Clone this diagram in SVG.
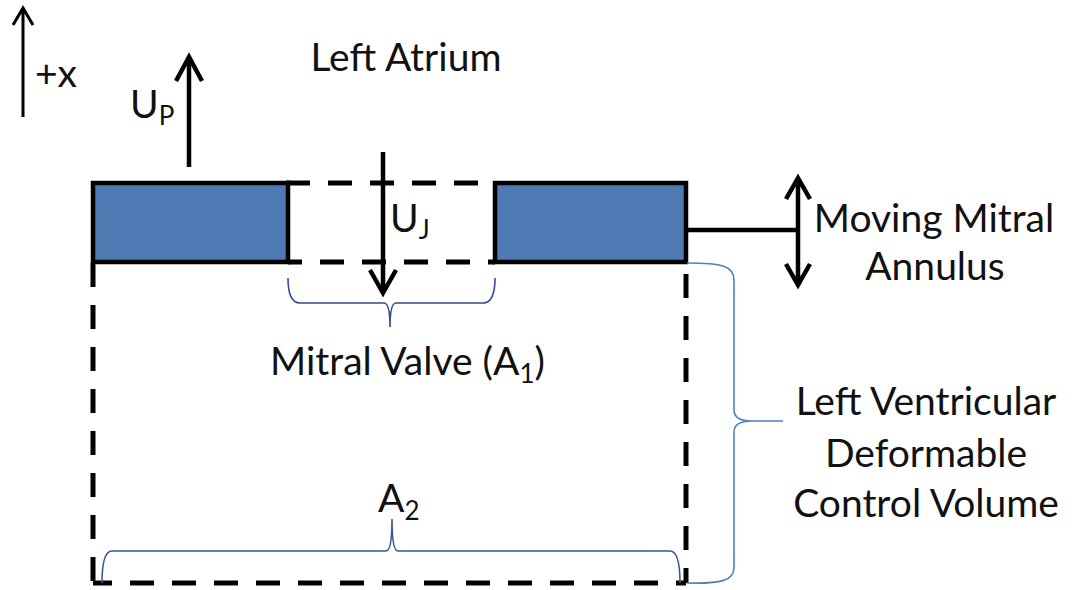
<svg xmlns="http://www.w3.org/2000/svg" width="1080" height="590" viewBox="0 0 1080 590">
<style>
text{font-family:Lato,"Open Sans","Liberation Sans",sans-serif;fill:#111;font-size:39px}
.sub{font-size:26px}
.blk{stroke:#000;fill:none;stroke-width:4.5}
.dash{stroke:#000;fill:none;stroke-width:5;stroke-dasharray:24 18}
.brace{fill:none;stroke-width:1.6}
.seg{fill:#4e7ab3;stroke:#000;stroke-width:4.5}
</style>
<rect width="1080" height="590" fill="#fff"/>
<g id="axis">
<path class="blk" style="stroke-width:3" d="M23,117 V9 M13,25 L23,8 L33,25"/>
<text x="35" y="87">+x</text>
</g>
<g id="left-atrium"><text x="406" y="71" text-anchor="middle">Left Atrium</text></g>
<g id="left-segment"><rect class="seg" x="93" y="183" width="195" height="79"/></g>
<g id="right-segment"><rect class="seg" x="495" y="183" width="191" height="79"/></g>
<g id="control-volume">
<path class="dash" d="M286,183 H495"/>
<path class="dash" style="stroke-dashoffset:10" d="M288,262 H495"/>
<path class="dash" d="M93,263 V583"/>
<path class="dash" d="M686,274 V583"/>
<path class="dash" style="stroke-dashoffset:5" d="M93,583 H686"/>
</g>
<g id="connectors">
<path id="up-arrow" class="blk" d="M189,167 V58 M176,81 L189,57 L202,81"/>
<path id="uj-arrow" class="blk" d="M383,152 V291 M370,270 L383,293 L396,270"/>
<path id="annulus-link" class="blk" d="M686,230 H798"/>
<path id="annulus-arrow" class="blk" d="M798,179 V283 M786,199 L798,178 L810,199 M786,264 L798,285 L810,264"/>
<path id="brace-valve" class="brace" stroke="#34488c" d="M288,278 Q288,303 300,303 H384 Q390,303 390,327 Q390,303 396,303 H483 Q495,303 495,278"/>
<path id="brace-a2" class="brace" stroke="#3a5598" d="M102,583 Q102,551 112,551 H386 Q392,551 392,519 Q392,551 398,551 H670 Q680,551 680,583"/>
<path id="brace-cv" class="brace" stroke="#4f7fc0" d="M687,263 C722,263 734,266 734,280 V410 Q734,421 752,421 H783 M752,421 Q734,421 734,432 V568 C734,580 722,584 687,583"/>
</g>
<g id="label-up"><text x="130" y="118">U<tspan class="sub" dy="7">P</tspan></text></g>
<g id="label-uj"><text x="390" y="232">U<tspan class="sub" dy="7">J</tspan></text></g>
<g id="label-annulus">
<text x="934" y="232" text-anchor="middle">Moving Mitral</text>
<text x="935" y="280" text-anchor="middle">Annulus</text>
</g>
<g id="label-valve"><text x="270" y="375">Mitral Valve (A<tspan class="sub" dy="8">1</tspan><tspan dy="-8">)</tspan></text></g>
<g id="label-cv">
<text x="926" y="415" text-anchor="middle">Left Ventricular</text>
<text x="926" y="467" text-anchor="middle">Deformable</text>
<text x="926" y="517" text-anchor="middle">Control Volume</text>
</g>
<g id="label-a2"><text x="378" y="512">A<tspan class="sub" dy="8">2</tspan></text></g>
</svg>
